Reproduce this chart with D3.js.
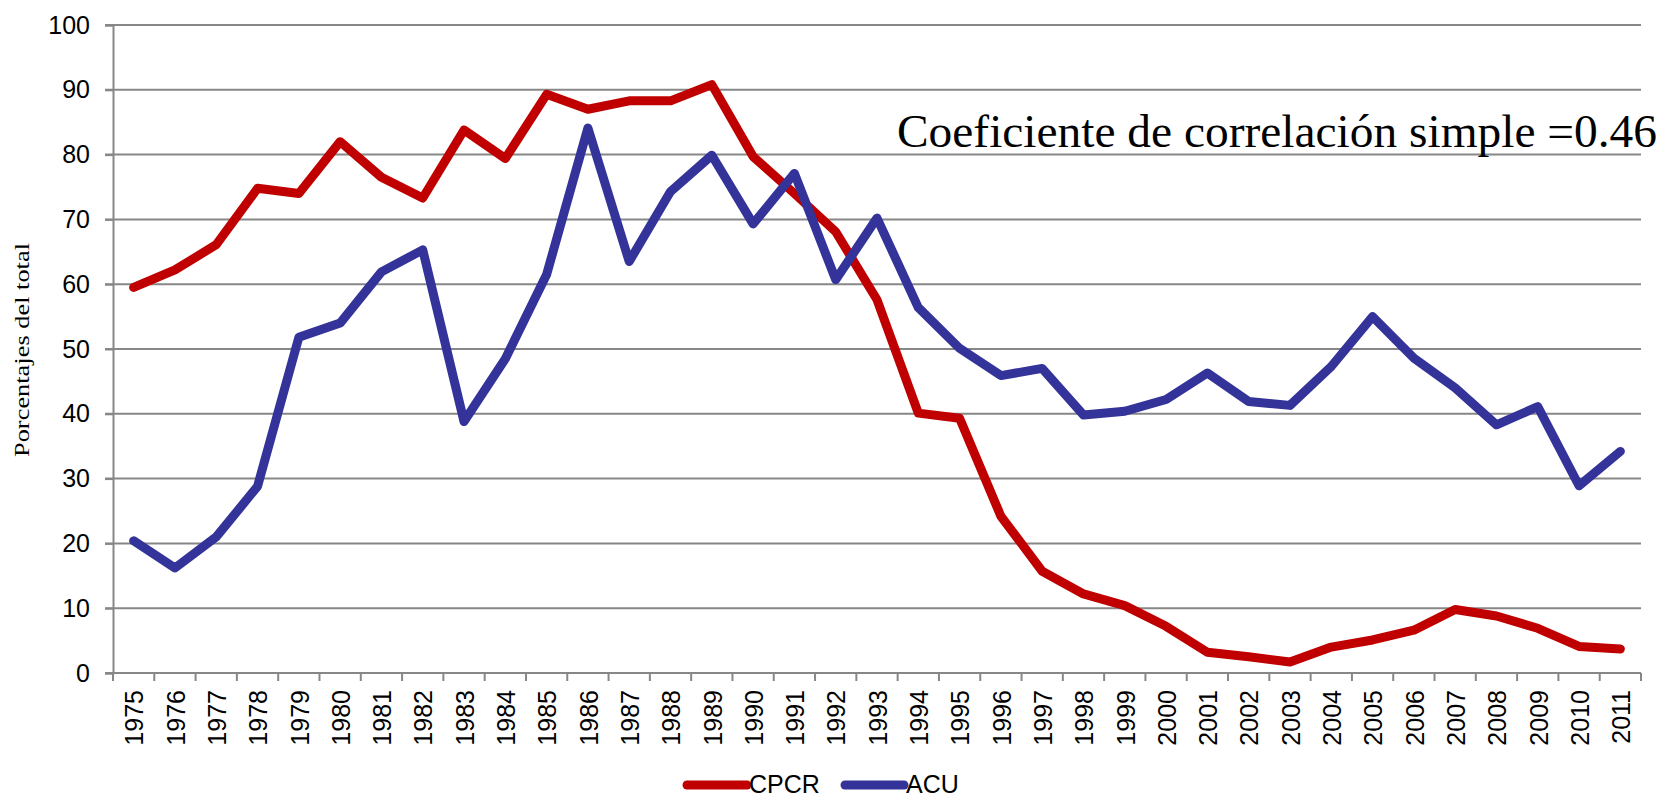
<!DOCTYPE html>
<html>
<head>
<meta charset="utf-8">
<script src="https://cdn.jsdelivr.net/npm/d3@7.9.0/dist/d3.min.js"></script>
<style>
  body { margin: 0; background: #fff; }
  svg { display: block; }
</style>
</head>
<body>
<svg width="1672" height="799"></svg>
<script>
const years = d3.range(1975, 2012).map(String);

const cpcr = [59.5, 62.2, 66.1, 74.8, 74.0, 82.0, 76.5, 73.3, 83.8, 79.4,
  89.3, 87.0, 88.3, 88.3, 90.8, 79.7, 74.0, 68.1, 57.6, 40.1,
  39.3, 24.2, 15.7, 12.2, 10.4, 7.2, 3.2, 2.5, 1.7, 4.0,
  5.1, 6.6, 9.8, 8.8, 6.9, 4.1, 3.7];

const acu = [20.4, 16.2, 21.0, 28.8, 51.8, 54.0, 61.9, 65.3, 38.8, 48.5,
  61.5, 84.1, 63.5, 74.3, 79.9, 69.3, 77.1, 60.7, 70.2, 56.4,
  50.1, 45.9, 47.0, 39.8, 40.4, 42.2, 46.3, 41.9, 41.3, 47.3,
  55.0, 48.6, 44.0, 38.3, 41.1, 28.9, 34.2];

const seriesNames = ["CPCR", "ACU"];
const seriesColors = ["#c00000", "#333399"];
const yTicks = d3.range(0, 101, 10);
const note = "Coeficiente de correlación simple =0.46";
const yTitle = "Porcentajes del total";

const plotLeft = 113, plotRight = 1641, plotTop = 25, plotBottom = 673;
const gridColor = "#878787";

const svg = d3.select("svg");

const x = d3.scaleBand().domain(years).range([plotLeft, plotRight]).padding(0);
const y = d3.scaleLinear().domain([0, 100]).range([plotBottom, plotTop]);

// gridlines
svg.append("g")
  .selectAll("line")
  .data(yTicks)
  .join("line")
  .attr("x1", plotLeft - 8)
  .attr("x2", plotRight)
  .attr("y1", d => y(d))
  .attr("y2", d => y(d))
  .attr("stroke", gridColor)
  .attr("stroke-width", 2);

// y axis
const yAxis = svg.append("g")
  .attr("transform", `translate(${plotLeft},0)`)
  .call(d3.axisLeft(y).tickValues(yTicks).tickSize(8).tickPadding(15));
yAxis.select(".domain").attr("stroke", gridColor).attr("stroke-width", 2);
yAxis.selectAll(".tick line").attr("stroke", gridColor).attr("stroke-width", 2);
yAxis.selectAll(".tick text")
  .attr("font-family", "Liberation Sans, Arial, sans-serif")
  .attr("font-size", 25)
  .attr("fill", "#000");

// x axis line + boundary ticks
svg.append("line")
  .attr("x1", plotLeft).attr("x2", plotRight)
  .attr("y1", plotBottom).attr("y2", plotBottom)
  .attr("stroke", gridColor).attr("stroke-width", 2);

const bounds = years.map(d => x(d)).concat([plotRight]);
svg.append("g")
  .selectAll("line")
  .data(bounds)
  .join("line")
  .attr("x1", d => d).attr("x2", d => d)
  .attr("y1", plotBottom).attr("y2", plotBottom + 8)
  .attr("stroke", gridColor).attr("stroke-width", 2);

// year labels
svg.append("g")
  .selectAll("text")
  .data(years)
  .join("text")
  .attr("transform", d => `translate(${x(d) + x.bandwidth() / 2 + 1},690) rotate(-90)`)
  .attr("text-anchor", "end")
  .attr("dy", "0.35em")
  .attr("font-family", "Liberation Sans, Arial, sans-serif")
  .attr("font-size", 25)
  .text(d => d);

// lines
const line = d3.line()
  .x((d, i) => x(years[i]) + x.bandwidth() / 2)
  .y(d => y(d));

[cpcr, acu].forEach((vals, k) => {
  svg.append("path")
    .datum(vals)
    .attr("d", line)
    .attr("fill", "none")
    .attr("stroke", seriesColors[k])
    .attr("stroke-width", 9)
    .attr("stroke-linejoin", "round")
    .attr("stroke-linecap", "round");
});

// annotation
svg.append("text")
  .attr("x", 897)
  .attr("y", 147)
  .attr("font-family", "Liberation Serif, Times New Roman, serif")
  .attr("font-size", 46)
  .attr("textLength", 760)
  .attr("lengthAdjust", "spacingAndGlyphs")
  .text(note);

// y title
svg.append("text")
  .attr("transform", `translate(29,350) rotate(-90)`)
  .attr("text-anchor", "middle")
  .attr("font-family", "Liberation Serif, Times New Roman, serif")
  .attr("font-size", 22)
  .attr("textLength", 214)
  .attr("lengthAdjust", "spacingAndGlyphs")
  .text(yTitle);

// legend
const legendPos = [{ x1: 687, x2: 747, tx: 749 }, { x1: 845, x2: 904, tx: 906 }];
const legend = svg.append("g");
seriesNames.forEach((name, k) => {
  const p = legendPos[k];
  legend.append("line")
    .attr("x1", p.x1).attr("x2", p.x2)
    .attr("y1", 785).attr("y2", 785)
    .attr("stroke", seriesColors[k])
    .attr("stroke-width", 9)
    .attr("stroke-linecap", "round");
  legend.append("text")
    .attr("x", p.tx)
    .attr("y", 793)
    .attr("font-family", "Liberation Sans, Arial, sans-serif")
    .attr("font-size", 25)
    .text(name);
});
</script>
</body>
</html>
